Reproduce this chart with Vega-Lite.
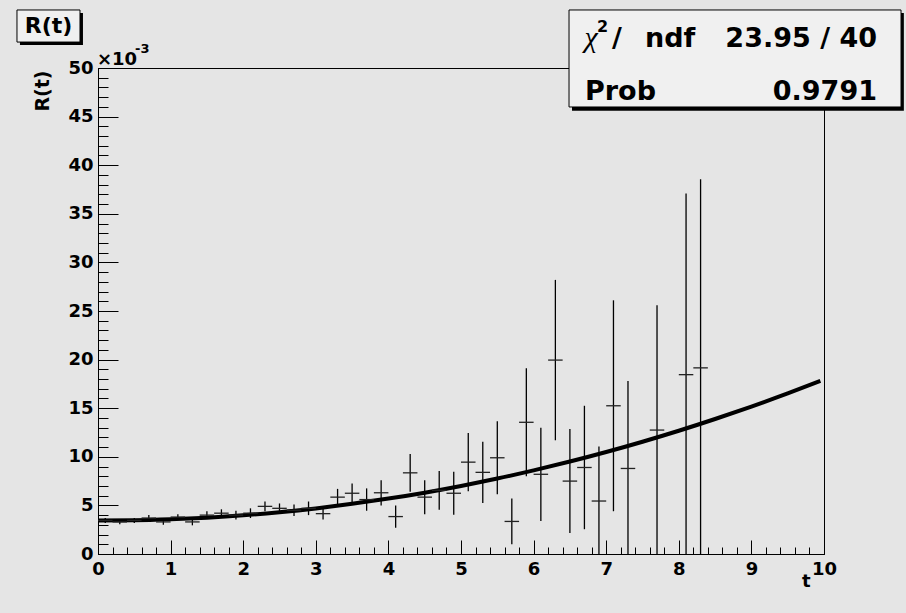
{
  "$schema": "https://vega.github.io/schema/vega-lite/v6.json",
  "width": 726,
  "height": 486,
  "autosize": {"type": "none"},
  "padding": {"left": 98, "top": 68, "right": 82, "bottom": 59},
  "background": "#e5e5e5",
  "config": {
    "view": {"stroke": "black", "strokeWidth": 1, "fill": "#e5e5e5"},
    "font": "DejaVu Sans",
    "axis": {"labelOverlap": false, "labelFlush": false, "grid": false}
  },
  "resolve": {"axis": {"x": "independent", "y": "independent"}},
  "datasets": {
    "points": [
      {"t": 0.1, "t0": 0.0, "t1": 0.2, "v": 3.45, "e": 0.25},
      {"t": 0.3, "t0": 0.2, "t1": 0.4, "v": 3.3, "e": 0.25},
      {"t": 0.5, "t0": 0.4, "t1": 0.6, "v": 3.45, "e": 0.25},
      {"t": 0.7, "t0": 0.6, "t1": 0.8, "v": 3.7, "e": 0.3},
      {"t": 0.9, "t0": 0.8, "t1": 1.0, "v": 3.3, "e": 0.3},
      {"t": 1.1, "t0": 1.0, "t1": 1.2, "v": 3.8, "e": 0.3},
      {"t": 1.3, "t0": 1.2, "t1": 1.4, "v": 3.3, "e": 0.35},
      {"t": 1.5, "t0": 1.4, "t1": 1.6, "v": 4.0, "e": 0.4},
      {"t": 1.7, "t0": 1.6, "t1": 1.8, "v": 4.2, "e": 0.4},
      {"t": 1.9, "t0": 1.8, "t1": 2.0, "v": 4.0, "e": 0.45},
      {"t": 2.1, "t0": 2.0, "t1": 2.2, "v": 4.2, "e": 0.5},
      {"t": 2.3, "t0": 2.2, "t1": 2.4, "v": 4.9, "e": 0.5},
      {"t": 2.5, "t0": 2.4, "t1": 2.6, "v": 4.7, "e": 0.5},
      {"t": 2.7, "t0": 2.6, "t1": 2.8, "v": 4.5, "e": 0.6},
      {"t": 2.9, "t0": 2.8, "t1": 3.0, "v": 4.7, "e": 0.7},
      {"t": 3.1, "t0": 3.0, "t1": 3.2, "v": 4.15, "e": 0.6},
      {"t": 3.3, "t0": 3.2, "t1": 3.4, "v": 5.85, "e": 0.85},
      {"t": 3.5, "t0": 3.4, "t1": 3.6, "v": 6.25, "e": 1.0},
      {"t": 3.7, "t0": 3.6, "t1": 3.8, "v": 5.6, "e": 1.15},
      {"t": 3.9, "t0": 3.8, "t1": 4.0, "v": 6.3, "e": 1.3},
      {"t": 4.1, "t0": 4.0, "t1": 4.2, "v": 3.85, "e": 1.15},
      {"t": 4.3, "t0": 4.2, "t1": 4.4, "v": 8.35, "e": 1.95},
      {"t": 4.5, "t0": 4.4, "t1": 4.6, "v": 5.85, "e": 1.75},
      {"t": 4.7, "t0": 4.6, "t1": 4.8, "v": 6.55, "e": 2.0},
      {"t": 4.9, "t0": 4.8, "t1": 5.0, "v": 6.25, "e": 2.2},
      {"t": 5.1, "t0": 5.0, "t1": 5.2, "v": 9.45, "e": 3.0},
      {"t": 5.3, "t0": 5.2, "t1": 5.4, "v": 8.4, "e": 3.15},
      {"t": 5.5, "t0": 5.4, "t1": 5.6, "v": 9.9, "e": 3.75},
      {"t": 5.7, "t0": 5.6, "t1": 5.8, "v": 3.35, "e": 2.35},
      {"t": 5.9, "t0": 5.8, "t1": 6.0, "v": 13.55, "e": 5.55},
      {"t": 6.1, "t0": 6.0, "t1": 6.2, "v": 8.2, "e": 4.8},
      {"t": 6.3, "t0": 6.2, "t1": 6.4, "v": 19.95, "e": 8.25},
      {"t": 6.5, "t0": 6.4, "t1": 6.6, "v": 7.5, "e": 5.35},
      {"t": 6.7, "t0": 6.6, "t1": 6.8, "v": 8.9, "e": 6.35},
      {"t": 6.9, "t0": 6.8, "t1": 7.0, "v": 5.45, "e": 5.6},
      {"t": 7.1, "t0": 7.0, "t1": 7.2, "v": 15.25, "e": 10.85},
      {"t": 7.3, "t0": 7.2, "t1": 7.4, "v": 8.8, "e": 9.0},
      {"t": 7.7, "t0": 7.6, "t1": 7.8, "v": 12.75, "e": 12.85},
      {"t": 8.1, "t0": 8.0, "t1": 8.2, "v": 18.45, "e": 18.65},
      {"t": 8.3, "t0": 8.2, "t1": 8.4, "v": 19.15, "e": 19.4}
    ],
    "fit": [
      {"t": 0.0, "v": 3.45}, {"t": 0.5, "v": 3.47}, {"t": 1.0, "v": 3.57},
      {"t": 1.5, "v": 3.74}, {"t": 2.0, "v": 3.98}, {"t": 2.5, "v": 4.3},
      {"t": 3.0, "v": 4.69}, {"t": 3.5, "v": 5.16}, {"t": 4.0, "v": 5.7},
      {"t": 4.5, "v": 6.31}, {"t": 5.0, "v": 7.0}, {"t": 5.5, "v": 7.76},
      {"t": 6.0, "v": 8.6}, {"t": 6.5, "v": 9.51}, {"t": 7.0, "v": 10.49},
      {"t": 7.5, "v": 11.55}, {"t": 8.0, "v": 12.68}, {"t": 8.5, "v": 13.89},
      {"t": 9.0, "v": 15.17}, {"t": 9.5, "v": 16.52}, {"t": 9.95, "v": 17.8}
    ]
  },
  "layer": [
    {
      "data": {"name": "fit"},
      "mark": {"type": "line", "color": "black", "strokeWidth": 4, "interpolate": "monotone", "clip": true},
      "encoding": {
        "x": {
          "field": "t", "type": "quantitative", "title": "t",
          "scale": {"domain": [0, 10], "nice": false, "zero": false},
          "axis": {
            "orient": "bottom",
            "values": [0,1,2,3,4,5,6,7,8,9,10],
            "format": "d",
            "tickSize": -14,
            "tickColor": "black", "tickWidth": 1,
            "domainColor": "black", "domainWidth": 1,
            "labelFont": "DejaVu Sans", "labelFontWeight": "bold", "labelFontSize": 18, "labelColor": "black",
            "labelPadding": 20,
            "titleFont": "DejaVu Sans", "titleFontWeight": "bold", "titleFontSize": 18, "titleColor": "black",
            "titleAlign": "right", "titleAnchor": null, "titleBaseline": "alphabetic", "titleX": 712, "titleY": 32
          }
        },
        "y": {
          "field": "v", "type": "quantitative", "title": "R(t)",
          "scale": {"domain": [0, 50], "nice": false, "zero": false},
          "axis": {
            "orient": "left",
            "values": [0,5,10,15,20,25,30,35,40,45,50],
            "format": "d",
            "tickSize": -20,
            "tickColor": "black", "tickWidth": 1,
            "domainColor": "black", "domainWidth": 1,
            "labelFont": "DejaVu Sans", "labelFontWeight": "bold", "labelFontSize": 18, "labelColor": "black",
            "labelPadding": 25,
            "titleFont": "DejaVu Sans", "titleFontWeight": "bold", "titleFontSize": 19, "titleColor": "black",
            "titleAngle": 270, "titleAlign": "right", "titleAnchor": null, "titleBaseline": "bottom", "titleX": -46, "titleY": 2
          }
        }
      }
    },
    {
      "data": {"name": "points"},
      "mark": {"type": "errorbar", "ticks": false, "color": "black", "thickness": 1.3, "clip": true},
      "encoding": {
        "x": {"field": "t", "type": "quantitative", "title": null,
          "axis": {"orient": "bottom", "values": [0,0.2,0.4,0.6,0.8,1,1.2,1.4,1.6,1.8,2,2.2,2.4,2.6,2.8,3,3.2,3.4,3.6,3.8,4,4.2,4.4,4.6,4.8,5,5.2,5.4,5.6,5.8,6,6.2,6.4,6.6,6.8,7,7.2,7.4,7.6,7.8,8,8.2,8.4,8.6,8.8,9,9.2,9.4,9.6,9.8,10],
            "tickSize": -7, "tickColor": "black", "tickWidth": 1, "labels": false, "domain": false, "title": null}},
        "y": {"field": "v", "type": "quantitative", "title": null,
          "axis": {"orient": "left", "values": [0,1,2,3,4,5,6,7,8,9,10,11,12,13,14,15,16,17,18,19,20,21,22,23,24,25,26,27,28,29,30,31,32,33,34,35,36,37,38,39,40,41,42,43,44,45,46,47,48,49,50],
            "tickSize": -10, "tickColor": "black", "tickWidth": 1, "labels": false, "domain": false, "title": null}},
        "yError": {"field": "e"}
      }
    },
    {
      "data": {"name": "points"},
      "mark": {"type": "rule", "color": "#222222", "strokeWidth": 1.3, "clip": true},
      "encoding": {
        "x": {"field": "t0", "type": "quantitative", "axis": null},
        "x2": {"field": "t1"},
        "y": {"field": "v", "type": "quantitative", "axis": null}
      }
    },
    {
      "data": {"values": [{}]},
      "mark": {"type": "text", "text": "×10", "font": "DejaVu Sans", "fontWeight": "bold", "fontSize": 18, "align": "left", "baseline": "alphabetic", "dx": -1, "dy": -3, "color": "black"},
      "encoding": {"x": {"datum": 0, "type": "quantitative", "axis": null}, "y": {"datum": 50, "type": "quantitative", "axis": null}}
    },
    {
      "data": {"values": [{}]},
      "mark": {"type": "text", "text": "-3", "font": "DejaVu Sans", "fontWeight": "bold", "fontSize": 13, "align": "left", "baseline": "alphabetic", "dx": 37, "dy": -15, "color": "black"},
      "encoding": {"x": {"datum": 0, "type": "quantitative", "axis": null}, "y": {"datum": 50, "type": "quantitative", "axis": null}}
    },
    {
      "data": {"values": [{}]},
      "mark": {"type": "rect", "color": "black"},
      "encoding": {
        "x": {"datum": -1.075, "type": "quantitative", "axis": null}, "x2": {"datum": -0.207},
        "y": {"datum": 55.66, "type": "quantitative", "axis": null}, "y2": {"datum": 52.37}
      }
    },
    {
      "data": {"values": [{}]},
      "mark": {"type": "rect", "fill": "#f0f0f0", "stroke": "black", "strokeWidth": 1},
      "encoding": {
        "x": {"datum": -1.116, "type": "quantitative", "axis": null}, "x2": {"datum": -0.248},
        "y": {"datum": 55.97, "type": "quantitative", "axis": null}, "y2": {"datum": 52.67}
      }
    },
    {
      "data": {"values": [{}]},
      "mark": {"type": "text", "text": "R(t)", "font": "DejaVu Sans", "fontWeight": "bold", "fontSize": 22, "align": "center", "baseline": "middle", "color": "black"},
      "encoding": {"x": {"datum": -0.682, "type": "quantitative", "axis": null}, "y": {"datum": 54.3, "type": "quantitative", "axis": null}}
    },
    {
      "data": {"values": [{}]},
      "mark": {"type": "rect", "color": "black"},
      "encoding": {
        "x": {"datum": 6.529, "type": "quantitative", "axis": null}, "x2": {"datum": 11.1},
        "y": {"datum": 55.66, "type": "quantitative", "axis": null}, "y2": {"datum": 45.6}
      }
    },
    {
      "data": {"values": [{}]},
      "mark": {"type": "rect", "fill": "#f0f0f0", "stroke": "black", "strokeWidth": 1},
      "encoding": {
        "x": {"datum": 6.488, "type": "quantitative", "axis": null}, "x2": {"datum": 11.061},
        "y": {"datum": 55.97, "type": "quantitative", "axis": null}, "y2": {"datum": 45.99}
      }
    },
    {
      "data": {"values": [{}]},
      "mark": {"type": "text", "text": "χ", "font": "Liberation Serif", "fontStyle": "italic", "fontSize": 30, "align": "left", "baseline": "alphabetic", "color": "black"},
      "encoding": {"x": {"datum": 6.7, "type": "quantitative", "axis": null}, "y": {"datum": 52.19, "type": "quantitative", "axis": null}}
    },
    {
      "data": {"values": [{}]},
      "mark": {"type": "text", "text": "2", "font": "DejaVu Sans", "fontWeight": "bold", "fontSize": 16, "align": "left", "baseline": "alphabetic", "color": "black"},
      "encoding": {"x": {"datum": 6.873, "type": "quantitative", "axis": null}, "y": {"datum": 53.7, "type": "quantitative", "axis": null}}
    },
    {
      "data": {"values": [{}]},
      "mark": {"type": "text", "text": "/", "font": "DejaVu Sans", "fontWeight": "bold", "fontSize": 27, "align": "left", "baseline": "alphabetic", "color": "black"},
      "encoding": {"x": {"datum": 7.08, "type": "quantitative", "axis": null}, "y": {"datum": 52.19, "type": "quantitative", "axis": null}}
    },
    {
      "data": {"values": [{}]},
      "mark": {"type": "text", "text": "ndf", "font": "DejaVu Sans", "fontWeight": "bold", "fontSize": 27, "align": "left", "baseline": "alphabetic", "color": "black"},
      "encoding": {"x": {"datum": 7.534, "type": "quantitative", "axis": null}, "y": {"datum": 52.19, "type": "quantitative", "axis": null}}
    },
    {
      "data": {"values": [{}]},
      "mark": {"type": "text", "text": "23.95 / 40", "font": "DejaVu Sans", "fontWeight": "bold", "fontSize": 27, "align": "right", "baseline": "alphabetic", "color": "black"},
      "encoding": {"x": {"datum": 10.73, "type": "quantitative", "axis": null}, "y": {"datum": 52.19, "type": "quantitative", "axis": null}}
    },
    {
      "data": {"values": [{}]},
      "mark": {"type": "text", "text": "Prob", "font": "DejaVu Sans", "fontWeight": "bold", "fontSize": 27, "align": "left", "baseline": "alphabetic", "color": "black"},
      "encoding": {"x": {"datum": 6.708, "type": "quantitative", "axis": null}, "y": {"datum": 46.71, "type": "quantitative", "axis": null}}
    },
    {
      "data": {"values": [{}]},
      "mark": {"type": "text", "text": "0.9791", "font": "DejaVu Sans", "fontWeight": "bold", "fontSize": 27, "align": "right", "baseline": "alphabetic", "color": "black"},
      "encoding": {"x": {"datum": 10.73, "type": "quantitative", "axis": null}, "y": {"datum": 46.71, "type": "quantitative", "axis": null}}
    }
  ]
}
